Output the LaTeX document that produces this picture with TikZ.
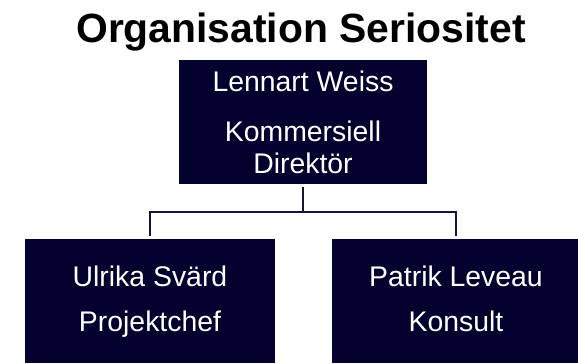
\documentclass[tikz,border=0pt]{standalone}
\usepackage{fontspec}
\setmainfont{Liberation Sans}
\usepackage{tikz}
\usetikzlibrary{positioning}

\definecolor{navy}{HTML}{03012E}
\definecolor{linknavy}{HTML}{14143A}

\begin{document}
\begin{tikzpicture}[
    x=1bp, y=-1bp,
    % --- STYLES ---
    person/.style={draw=none, fill=navy, text=white, minimum height=124bp, align=center,
                   inner sep=0pt, font=\fontsize{28.5}{32}\selectfont},
    title/.style={anchor=base, font=\fontsize{41}{46}\selectfont\bfseries},
    link/.style={draw=linknavy, line width=2bp}
]
\useasboundingbox (0,0) rectangle (578,363);

% --- TITLE ---
\node (title) [title] at (301,42) {Organisation Seriositet};

% --- ROW 1 ---
\node (lennart) [person, minimum width=248bp] at (303,122) {Lennart Weiss\\[18bp]Kommersiell\\Direktör};

% --- ROW 2 ---
\node (ulrika) [person, minimum width=250bp, below=55bp of lennart, xshift=-153bp] {Ulrika Svärd\\[13bp]Projektchef\vphantom{j}};
\node (patrik) [person, minimum width=248bp, below=55bp of lennart, xshift=153bp] {Patrik Leveau\\[13bp]Konsult\vphantom{j}};

% Edges
\draw [link, shorten <=3bp] (lennart.south) -- ++(0,27.5) coordinate (split);
\draw [link, shorten >=3bp] (split) -| (ulrika.north);
\draw [link, shorten >=3bp] (split) -| (patrik.north);

\end{tikzpicture}
\end{document}
